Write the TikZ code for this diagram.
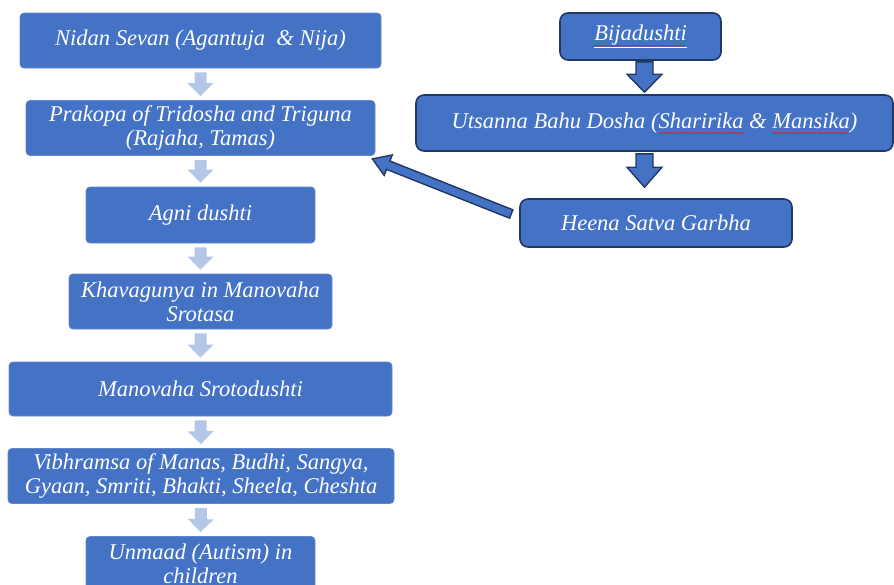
\documentclass[tikz,border=0pt]{standalone}
\usepackage{fontspec}
\setmainfont{Liberation Serif}
\usetikzlibrary{calc}
\definecolor{boxblue}{HTML}{4472C4}
\definecolor{navy}{HTML}{203864}
\definecolor{lightarrow}{HTML}{B4C7E7}
\definecolor{squig}{HTML}{E0202A}
\newlength\rwlen
\newcommand{\redwave}[1]{\settowidth{\rwlen}{#1}\pgfmathtruncatemacro\rwn{\rwlen/1.6pt}%
  \rlap{#1}\tikz[baseline=0pt]{\useasboundingbox (0pt,0pt) rectangle (\rwlen,-5pt);
  \draw[squig, line width=0.75pt, sharp corners] (0pt,-4.2pt) \foreach \i in {1,...,\rwn} {-- (\i*1.6pt,{-4.2pt-mod(\i,2)*1.2pt})};}}
\newcommand{\blockarrow}[6]{%
  \path[#1] let \p1=#2, \p2=#3, \n1={atan2(\y2-\y1,\x2-\x1)}, \n2={veclen(\x2-\x1,\y2-\y1)} in
   ([shift={(\p1)},rotate=\n1]0pt,#4pt) --
   ([shift={(\p1)},rotate=\n1]\n2-#6pt,#4pt) --
   ([shift={(\p1)},rotate=\n1]\n2-#6pt,#5pt) --
   ([shift={(\p1)},rotate=\n1]\n2-0pt,0pt) --
   ([shift={(\p1)},rotate=\n1]\n2-#6pt,-#5pt) --
   ([shift={(\p1)},rotate=\n1]\n2-#6pt,-#4pt) --
   ([shift={(\p1)},rotate=\n1]0pt,-#4pt) -- cycle;}
\tikzset{
  lbox/.style={rectangle, rounded corners=4pt, fill=boxblue, draw=boxblue!85!white,
    line width=0.8pt, text=white, align=center, inner sep=0pt,
    font=\fontsize{22.5}{24}\selectfont\itshape},
  rbox/.style={lbox, rounded corners=8pt, draw=navy, line width=1.6pt},
  lightarr/.style={fill=lightarrow},
  darkarr/.style={fill=boxblue, draw=navy, line width=1.4pt, line join=miter}
}
\begin{document}
\begin{tikzpicture}[x=1pt,y=-1pt]
\useasboundingbox (0,0) rectangle (894,584);
\clip (0,0) rectangle (894,584);
% left column
\node[lbox, minimum width=361pt, minimum height=55pt] (n1) at (200.5,40.5) {Nidan Sevan (Agantuja\ \ \& Nija)};
\node[lbox, minimum width=349pt, minimum height=55pt] (n2) at (200.5,128) {Prakopa of Tridosha and Triguna\\(Rajaha, Tamas)};
\node[lbox, minimum width=229pt, minimum height=56pt] (n3) at (200.5,215) {Agni dushti};
\node[lbox, minimum width=263pt, minimum height=55pt] (n4) at (200.5,301.5) {Khavagunya in Manovaha\\Srotasa};
\node[lbox, minimum width=383pt, minimum height=54pt] (n5) at (200.5,389) {Manovaha Srotodushti};
\node[lbox, minimum width=386pt, minimum height=55pt] (n6) at (201,476) {Vibhramsa of Manas, Budhi, Sangya,\\Gyaan, Smriti, Bhakti, Sheela, Cheshta};
\node[lbox, minimum width=229pt, minimum height=55pt] (n7) at (200.5,564) {Unmaad (Autism) in\\children};
% right column
\node[rbox, minimum width=161pt, minimum height=47pt] (b) at (640.5,36.5) {\redwave{\underline{Bijadushti}}};
\node[rbox, minimum width=477pt, minimum height=56pt] (u) at (654.5,123) {Utsanna Bahu Dosha (\redwave{Sharirika} \& \redwave{Mansika})};
\node[rbox, minimum width=272pt, minimum height=48pt] (h) at (656,223) {Heena Satva Garbha};
% light arrows
\blockarrow{lightarr}{($(n1.south)+(0,4)$)}{($(n2.north)+(0,-4)$)}{6}{13}{13}
\blockarrow{lightarr}{($(n2.south)+(0,4)$)}{($(n3.north)+(0,-4)$)}{6}{13}{13}
\blockarrow{lightarr}{($(n3.south)+(0,4)$)}{($(n4.north)+(0,-4)$)}{6}{13}{13}
\blockarrow{lightarr}{($(n4.south)+(0,4)$)}{($(n5.north)+(0,-4)$)}{6}{13}{13}
\blockarrow{lightarr}{($(n5.south)+(0,4)$)}{($(n6.north)+(0,-4)$)}{6}{13}{13}
\blockarrow{lightarr}{($(n6.south)+(0,4)$)}{($(n7.north)+(0,-4)$)}{6}{13}{13}
% dark arrows
\blockarrow{darkarr}{($(b.south)+(4,1)$)}{($(u.north)+(-10,-2)$)}{8.5}{17.5}{18}
\blockarrow{darkarr}{($(u.south)+(-10,2)$)}{($(h.north)+(-11.5,-11)$)}{8.5}{17.5}{20}
\blockarrow{darkarr}{($(h.west)+(-8,-9)$)}{($(n2.south east)+(-3,3)$)}{4.5}{11}{17}
\end{tikzpicture}
\end{document}
